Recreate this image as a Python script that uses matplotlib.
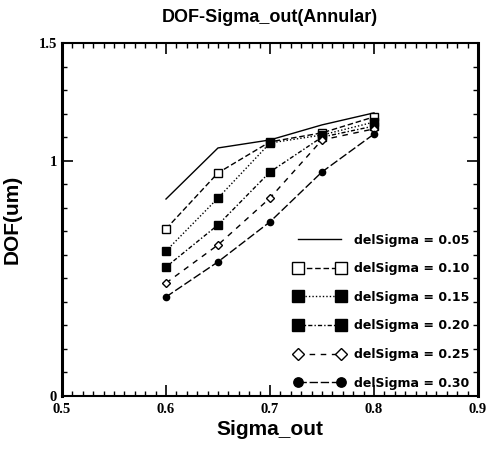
import matplotlib
matplotlib.use("Agg")
import matplotlib.pyplot as plt
from matplotlib.ticker import MultipleLocator, FixedLocator

sigma_out = [0.6, 0.65, 0.7, 0.75, 0.8]
dof_005 = [0.837, 1.054, 1.088, 1.152, 1.203]
dof_010 = [0.710, 0.948, 1.080, 1.118, 1.186]
dof_015 = [0.616, 0.841, 1.075, 1.109, 1.164]
dof_020 = [0.548, 0.727, 0.952, 1.100, 1.147]
dof_025 = [0.480, 0.642, 0.841, 1.088, 1.135]
dof_030 = [0.421, 0.570, 0.740, 0.952, 1.113]
labels = ["delSigma = 0.05", "delSigma = 0.10", "delSigma = 0.15",
          "delSigma = 0.20", "delSigma = 0.25", "delSigma = 0.30"]
x_ticks = [0.5, 0.6, 0.7, 0.8, 0.9]
y_ticks = [0, 1, 1.5]
y_ticklabels = ["0", "1", "1.5"]

fig = plt.figure(figsize=(4.92, 4.55), dpi=100)
ax = fig.add_axes([0.126, 0.1297, 0.8455, 0.7758])

series = [dof_005, dof_010, dof_015, dof_020, dof_025, dof_030]
styles = [
    dict(linestyle="-", marker=None),
    dict(linestyle=(0, (4, 2)), marker="s", mfc="white"),
    dict(linestyle=(0, (1, 1.5)), marker="s", mfc="black"),
    dict(linestyle=(0, (3, 1.5, 1, 1.5)), marker="s", mfc="black"),
    dict(linestyle=(0, (4, 4)), marker="D", mfc="white", ms=4),
    dict(linestyle=(0, (6, 2)), marker="o", mfc="black", ms=4.5),
]
for vals, lab, st in zip(series, labels, styles):
    kw = dict(color="black", lw=1.0, mec="black", ms=5.5, mew=1.0)
    kw.update(st)
    ax.plot(sigma_out, vals, label=lab, **kw)

ax.set_xlim(0.5, 0.9)
ax.set_ylim(0, 1.5)
ax.xaxis.set_major_locator(FixedLocator(x_ticks))
ax.xaxis.set_minor_locator(MultipleLocator(0.01))
ax.yaxis.set_major_locator(FixedLocator(y_ticks))
ax.set_yticklabels(y_ticklabels)
ax.yaxis.set_minor_locator(MultipleLocator(0.1))
ax.tick_params(which="both", direction="in", top=True, right=True)
ax.tick_params(which="major", length=8, width=1.2, labelsize=10.5)
ax.tick_params(axis="x", which="major", pad=5)
ax.tick_params(which="minor", length=3.5, width=1.0)
for lab in ax.get_xticklabels() + ax.get_yticklabels():
    lab.set_fontfamily("Liberation Serif")
    lab.set_fontweight("bold")
for s in ["left", "right"]:
    ax.spines[s].set_linewidth(2.2)
for s in ["top", "bottom"]:
    ax.spines[s].set_linewidth(1.5)

ax.set_title("DOF-Sigma_out(Annular)", fontsize=13, fontweight="bold",
             family="Liberation Sans", pad=15)
ax.set_xlabel("Sigma_out", fontsize=15, fontweight="bold", family="Liberation Sans", labelpad=3)
ax.set_ylabel("DOF(um)", fontsize=15, fontweight="bold", family="Liberation Sans", labelpad=12)

leg = ax.legend(loc="lower right", frameon=False, markerscale=1.5, handlelength=4.0,
                numpoints=2, labelspacing=1.25, borderaxespad=0.1, handletextpad=0.8,
                bbox_to_anchor=(0.995, 0.0),
                prop={"family": "Liberation Sans Narrow", "size": 9, "weight": "bold"})

fig.savefig("out.png", dpi=100)
